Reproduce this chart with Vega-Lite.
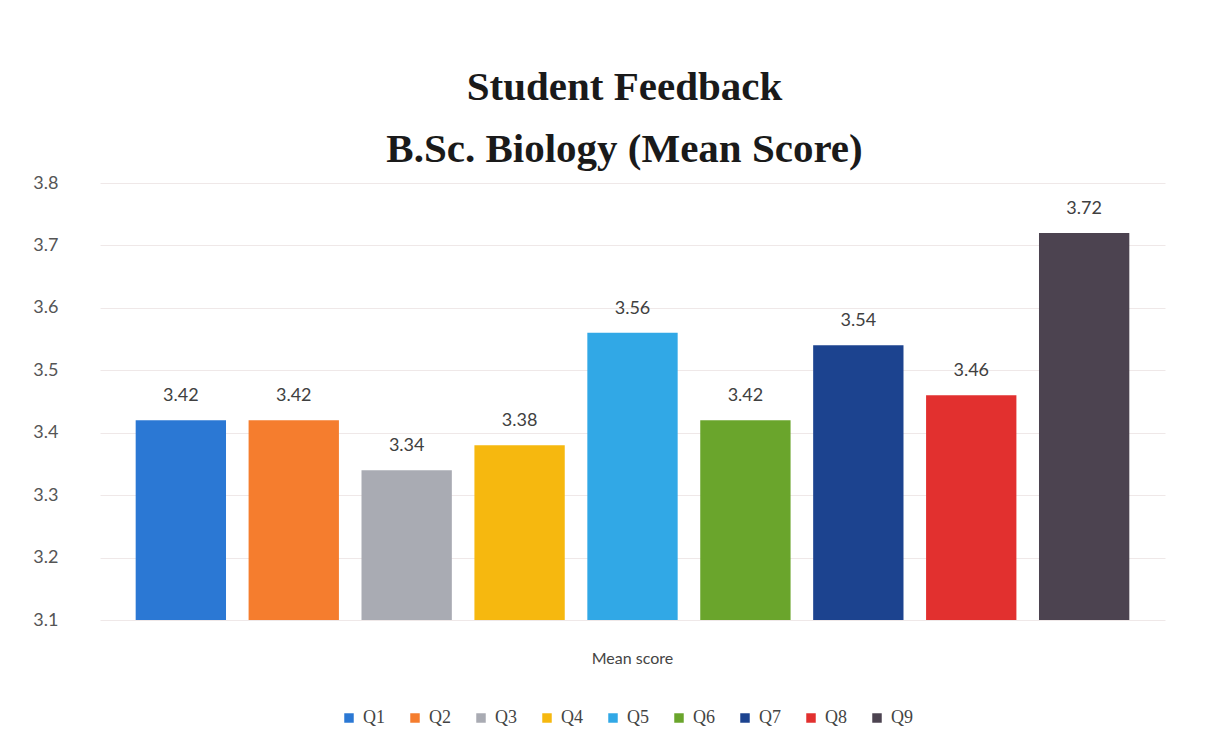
{
  "$schema": "https://vega.github.io/schema/vega-lite/v6.json",
  "autosize": "none",
  "width": 1065,
  "height": 437,
  "padding": {"left": 100, "top": 183, "right": 40, "bottom": 136},
  "background": "#ffffff",
  "title": {
    "text": ["Student Feedback", "B.Sc. Biology (Mean Score)"],
    "font": "Liberation Serif",
    "fontSize": 41,
    "fontWeight": "bold",
    "color": "#1a1a1a",
    "lineHeight": 62,
    "offset": 3,
    "anchor": "middle",
    "dx": -8
  },
  "data": {
    "values": [
      {"group": "Mean score", "q": "Q1", "score": 3.42},
      {"group": "Mean score", "q": "Q2", "score": 3.42},
      {"group": "Mean score", "q": "Q3", "score": 3.34},
      {"group": "Mean score", "q": "Q4", "score": 3.38},
      {"group": "Mean score", "q": "Q5", "score": 3.56},
      {"group": "Mean score", "q": "Q6", "score": 3.42},
      {"group": "Mean score", "q": "Q7", "score": 3.54},
      {"group": "Mean score", "q": "Q8", "score": 3.46},
      {"group": "Mean score", "q": "Q9", "score": 3.72}
    ]
  },
  "encoding": {
    "x": {
      "field": "group",
      "type": "nominal",
      "scale": {"paddingInner": 0, "paddingOuter": 0.024},
      "axis": {
        "title": null,
        "labelAngle": 0,
        "labelFont": "Lato",
        "labelFontSize": 16,
        "labelColor": "#444444",
        "labelPadding": 30,
        "ticks": false,
        "domain": false
      }
    },
    "xOffset": {
      "field": "q",
      "type": "nominal",
      "scale": {"paddingInner": 0.2, "paddingOuter": 0.1}
    },
    "y": {
      "field": "score",
      "type": "quantitative",
      "scale": {"domain": [3.1, 3.8], "zero": false, "clamp": true},
      "axis": {
        "title": null,
        "values": [3.1, 3.2, 3.3, 3.4, 3.5, 3.6, 3.7, 3.8],
        "format": ".1f",
        "labelFont": "Lato",
        "labelFontSize": 18,
        "labelColor": "#555555",
        "labelPadding": 42,
        "ticks": false,
        "domain": false,
        "gridColor": "#efe8e8",
        "gridWidth": 1
      }
    }
  },
  "layer": [
    {
      "mark": {"type": "bar"},
      "encoding": {
        "color": {
          "field": "q",
          "type": "nominal",
          "scale": {
            "domain": ["Q1", "Q2", "Q3", "Q4", "Q5", "Q6", "Q7", "Q8", "Q9"],
            "range": ["#2b78d4", "#f57d2e", "#a9abb3", "#f6b80f", "#31a8e6", "#6aa52c", "#1c438f", "#e2302f", "#4c4350"]
          },
          "legend": {
            "title": null,
            "orient": "none",
            "direction": "horizontal",
            "legendX": 240,
            "legendY": 526,
            "symbolType": "square",
            "symbolSize": 90,
            "symbolStrokeWidth": 0,
            "labelFont": "Liberation Serif",
            "labelFontSize": 18,
            "labelColor": "#444444",
            "labelOffset": 5,
            "columnPadding": 21
          }
        }
      }
    },
    {
      "mark": {
        "type": "text",
        "baseline": "bottom",
        "dy": -15,
        "font": "Lato",
        "fontSize": 18,
        "color": "#404040"
      },
      "encoding": {
        "text": {"field": "score", "type": "quantitative", "format": ".2f"}
      }
    }
  ],
  "config": {"view": {"stroke": null}}
}
